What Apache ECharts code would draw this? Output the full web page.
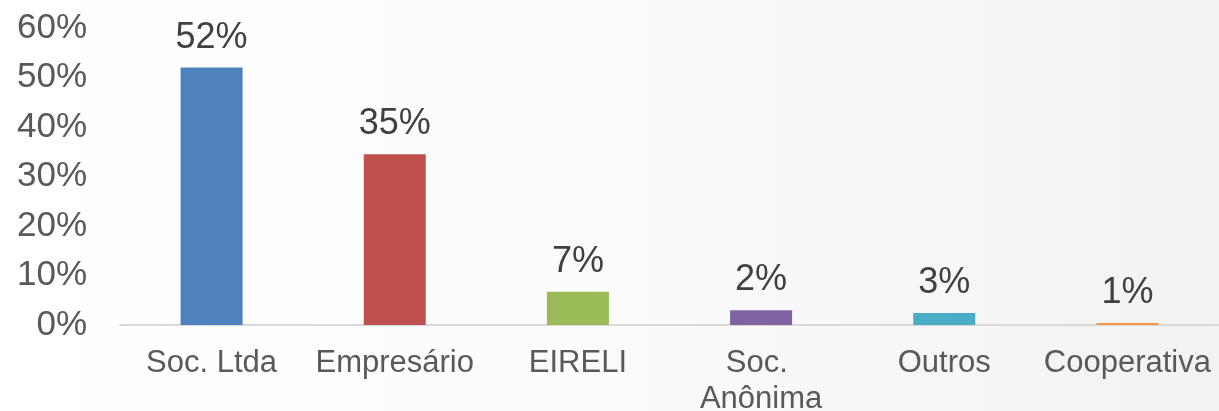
<!DOCTYPE html>
<html>
<head>
<meta charset="utf-8">
<script src="https://cdn.jsdelivr.net/npm/echarts@6/dist/echarts.min.js"></script>
<style>
  html, body { margin: 0; padding: 0; }
  #chart { width: 1219px; height: 411px; }
</style>
</head>
<body>
<div id="chart"></div>
<script>
// data
const categories = ['Soc. Ltda', 'Empresário', 'EIRELI', 'Soc. Anônima', 'Outros', 'Cooperativa']
const barValues = [52, 34.5, 6.7, 3.0, 2.4, 0.4]
const barLabels = ['52%', '35%', '7%', '2%', '3%', '1%']
const barColors = ['#4F81BD', '#C0504D', '#9BBB59', '#8064A2', '#4BACC6', '#F79646']
const yTicks = [0, 10, 20, 30, 40, 50, 60]

let chartDom = document.getElementById('chart')
let myChart = echarts.init(chartDom)

let option = {
  backgroundColor: {
    type: 'linear', x: 0, y: 0, x2: 1, y2: 0,
    colorStops: [
      { offset: 0, color: '#ffffff' },
      { offset: 0.5, color: '#fbfbfb' },
      { offset: 1, color: '#f2f2f2' }
    ]
  },
  textStyle: { fontFamily: 'Liberation Sans, Arial, sans-serif' },
  grid: { left: 120, right: 0, top: 28, bottom: 86, containLabel: false, outerBoundsMode: 'none' },
  xAxis: {
    type: 'category',
    data: categories,
    axisLine: { lineStyle: { color: '#d9d9d9', width: 2 } },
    axisTick: { show: false },
    axisLabel: {
      color: '#595959',
      fontSize: 31,
      lineHeight: 36,
      margin: 20,
      interval: 0,
      width: 175,
      overflow: 'break'
    }
  },
  yAxis: {
    type: 'value',
    min: yTicks[0],
    max: yTicks[yTicks.length - 1],
    interval: 10,
    splitLine: { show: false },
    axisLine: { show: false },
    axisTick: { show: false },
    axisLabel: {
      color: '#595959',
      fontSize: 35,
      margin: 33,
      formatter: v => v + '%'
    }
  },
  series: [
    {
      type: 'bar',
      barWidth: 62,
      data: barValues.map((v, i) => ({
        value: v,
        itemStyle: { color: barColors[i] },
        label: { formatter: barLabels[i] }
      })),
      label: {
        show: true,
        position: 'top',
        distance: 12,
        color: '#404040',
        fontSize: 36,
        lineHeight: 36
      }
    }
  ]
}

option && myChart.setOption(option)
</script>
</body>
</html>
